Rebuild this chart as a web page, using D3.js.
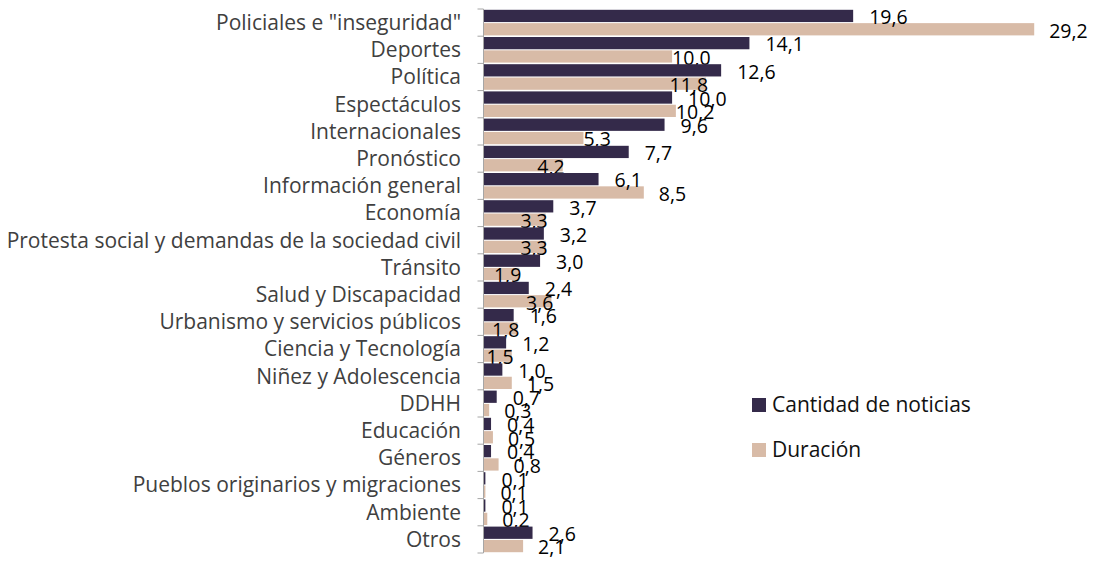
<!DOCTYPE html>
<html>
<head>
<meta charset="utf-8">
<script src="https://d3js.org/d3.v7.min.js"></script>
<style>
    body { margin: 0; background: #fff; }
    text { font-family: "Open Sans", sans-serif; }
    .cat { fill: #404040; font-size: 21px; }
    .val { fill: #000; font-size: 19.5px; }
    .leg { fill: #111; font-size: 21px; }
</style>
</head>
<body>
<svg id="chart" width="1097" height="561"></svg>

<script>

// Datos
const categories = ["Policiales e \"inseguridad\"", "Deportes", "Política", "Espectáculos",
    "Internacionales", "Pronóstico", "Información general", "Economía",
    "Protesta social y demandas de la sociedad civil", "Tránsito", "Salud y Discapacidad",
    "Urbanismo y servicios públicos", "Ciencia y Tecnología", "Niñez y Adolescencia",
    "DDHH", "Educación", "Géneros", "Pueblos originarios y migraciones", "Ambiente", "Otros"];
const cantidad = [19.6, 14.1, 12.6, 10.0, 9.6, 7.7, 6.1, 3.7, 3.2, 3.0, 2.4, 1.6, 1.2, 1.0, 0.7, 0.4, 0.4, 0.1, 0.1, 2.6];
const duracion = [29.2, 10.0, 11.8, 10.2, 5.3, 4.2, 8.5, 3.3, 3.3, 1.9, 3.6, 1.8, 1.5, 1.5, 0.3, 0.5, 0.8, 0.1, 0.2, 2.1];
const seriesNames = ["Cantidad de noticias", "Duración"];
// where each "Duración" label sits, as in the original (out = after bar, edge = at bar end, in = inside end)
const durLabelMode = ["out", "edge", "in", "edge", "edge", "in", "out", "in", "in", "in",
    "in", "in", "in", "out", "out", "out", "out", "out", "out", "out"];

const colors = ["#342a4a", "#d8bba7"];

const svg = d3.select("#chart");

const x = d3.scaleLinear().domain([0, 30]).range([483.5, 483.5 + 30 * 18.86]);
const y = d3.scaleBand().domain(categories).range([9, 553]);
const ySub = d3.scaleBand().domain(seriesNames).range([0, y.bandwidth()])
    .paddingInner(0.08).paddingOuter(0.06);

const fmt = d3.formatLocale({decimal: ",", thousands: ".", grouping: [3], currency: ["", ""]}).format(".1f");

const rows = categories.map((c, i) => ({cat: c, i: i, vals: [cantidad[i], duracion[i]]}));

// barras
const groups = svg.append("g").selectAll("g").data(rows).join("g")
    .attr("transform", d => "translate(0," + y(d.cat) + ")");

groups.selectAll("rect").data(d => d.vals.map((v, k) => ({v: v, k: k})))
    .join("rect")
    .attr("x", x(0))
    .attr("y", d => ySub(seriesNames[d.k]))
    .attr("width", d => x(d.v) - x(0))
    .attr("height", ySub.bandwidth())
    .attr("fill", d => colors[d.k]);

// etiquetas de valores
groups.selectAll("text.val").data(d => d.vals.map((v, k) => ({v: v, k: k, i: d.i})))
    .join("text")
    .attr("class", "val")
    .attr("x", d => {
        if (d.k === 0) return x(d.v) + 16;
        const m = durLabelMode[d.i];
        if (m === "in") return x(d.v) + 2;
        if (m === "edge") return x(d.v);
        return x(d.v) + 15;
    })
    .attr("text-anchor", d => (d.k === 1 && durLabelMode[d.i] === "in") ? "end" : "start")
    .attr("y", d => ySub(seriesNames[d.k]) + ySub.bandwidth() / 2 + 1.5)
    .attr("dy", "0.35em")
    .text(d => fmt(d.v));

// eje de categorías
const axis = svg.append("g");
axis.append("line")
    .attr("x1", x(0)).attr("x2", x(0))
    .attr("y1", y.range()[0]).attr("y2", y.range()[1])
    .attr("stroke", "#a6a6a6").attr("stroke-width", 1);
axis.selectAll("line.tick").data(categories.map(c => y(c)).concat([y.range()[1]]))
    .join("line")
    .attr("class", "tick")
    .attr("x1", x(0) - 6).attr("x2", x(0))
    .attr("y1", d => d).attr("y2", d => d)
    .attr("stroke", "#a6a6a6").attr("stroke-width", 1);
axis.selectAll("text").data(categories).join("text")
    .attr("class", "cat")
    .attr("x", 461)
    .attr("y", d => y(d) + y.bandwidth() / 2)
    .attr("dy", "0.35em")
    .attr("text-anchor", "end")
    .text(d => d);

// leyenda
const legend = svg.append("g").attr("transform", "translate(752,398)");
const li = legend.selectAll("g").data(seriesNames).join("g")
    .attr("transform", (d, k) => "translate(0," + (k * 45) + ")");
li.append("rect").attr("width", 14).attr("height", 14).attr("fill", (d, k) => colors[k]);
li.append("text").attr("class", "leg").attr("x", 20).attr("y", 7).attr("dy", "0.35em").text(d => d);

</script>
</body>
</html>
